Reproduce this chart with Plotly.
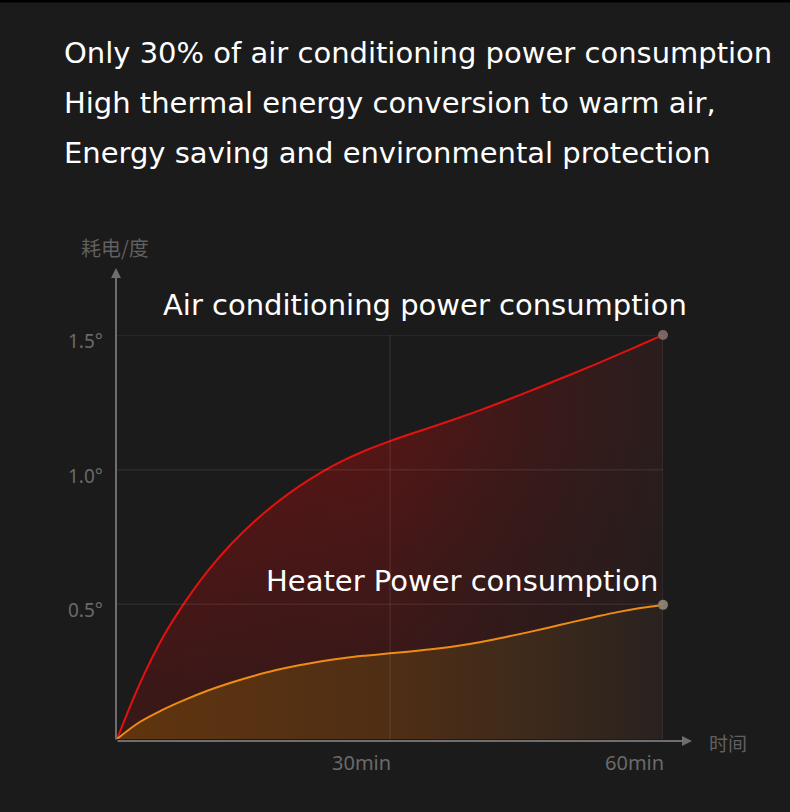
import plotly.graph_objects as go

# ---- data (minutes, kWh) ----
ac_x = [0, 2.5, 5, 7.5, 10, 12.5, 15, 17.5, 20, 22.5, 25, 27.5, 30, 32.5, 35, 37.5, 40, 42.5, 45, 47.5, 50, 52.5, 55, 57.5, 60]
ac_y = [0, 0.205, 0.375, 0.51, 0.625, 0.722, 0.805, 0.876, 0.938, 0.991, 1.036, 1.074, 1.106, 1.135, 1.163,
        1.192, 1.222, 1.254, 1.287, 1.321, 1.355, 1.39, 1.426, 1.463, 1.5]
ht_x = [0, 2.5, 5, 7.5, 10, 12.5, 15, 17.5, 20, 22.5, 25, 27.5, 30, 32.5, 35, 37.5, 40, 42.5, 45, 47.5, 50, 52.5, 55, 57.5, 60]
ht_y = [0, 0.063, 0.108, 0.146, 0.18, 0.209, 0.234, 0.256, 0.274, 0.289, 0.301, 0.310, 0.318, 0.326, 0.335,
        0.346, 0.360, 0.377, 0.395, 0.414, 0.434, 0.453, 0.471, 0.486, 0.498]
x_ticks = [30, 60]
x_tick_text = ["30min", "60min"]
y_ticks = [0.5, 1.0, 1.5]
y_tick_text = ["0.5°", "1.0°", "1.5°"]
headline = ["Only 30% of air conditioning power consumption",
            "High thermal energy conversion to warm air,",
            "Energy saving and environmental protection"]
ac_label = "Air conditioning power consumption"
ht_label = "Heater Power consumption"
y_title = "耗电/度"
x_title = "时间"

W, H = 790, 812
L, R, T, B = 117, 127, 335, 73
PW, PH = W - L - R, H - T - B


def px(x):
    return (x - L) / PW


def py(y):
    return (H - B - y) / PH


BG = "#1b1b1b"
TXT = "DejaVu Sans"
fig = go.Figure()

# red fill: horizontal base + vertical darkening overlay
fig.add_trace(go.Scatter(
    x=ac_x, y=ac_y, mode="none", line=dict(shape="spline"), fill="tozeroy",
    fillgradient=dict(type="horizontal", start=0, stop=60,
                      colorscale=[[0, "#5e1414"], [0.5, "#531616"], [0.75, "#3c1919"], [1, "#2a1d1d"]]),
    hoverinfo="skip", showlegend=False))
fig.add_trace(go.Scatter(
    x=ac_x, y=ac_y, mode="none", line=dict(shape="spline"), fill="tozeroy",
    fillgradient=dict(type="vertical", start=0, stop=1.5,
                      colorscale=[[0, "rgba(27,27,27,0.6)"], [0.4, "rgba(27,27,27,0.3)"],
                                  [0.75, "rgba(27,27,27,0)"], [1, "rgba(27,27,27,0)"]]),
    hoverinfo="skip", showlegend=False))
# orange fill
fig.add_trace(go.Scatter(
    x=ht_x, y=ht_y, mode="none", line=dict(shape="spline"), fill="tozeroy",
    fillgradient=dict(type="horizontal", start=0, stop=60,
                      colorscale=[[0, "#60350f"], [0.5, "#4f2e15"], [0.75, "#3e2a1b"], [1, "#29221f"]]),
    hoverinfo="skip", showlegend=False))

fig.update_xaxes(range=[0, 60], showticklabels=False, showgrid=False, zeroline=False,
                 showline=False, fixedrange=True)
fig.update_yaxes(range=[0, 1.5], showticklabels=False, showgrid=False, zeroline=False,
                 showline=False, fixedrange=True)

shapes = []
GRID = "rgba(255,255,255,0.075)"
for v in x_ticks:
    shapes.append(dict(type="line", xref="x", yref="y", x0=v, x1=v, y0=0, y1=max(y_ticks),
                       line=dict(color=GRID, width=1.5), layer="above"))
for v in y_ticks:
    shapes.append(dict(type="line", xref="x", yref="y", x0=0, x1=max(x_ticks), y0=v, y1=v,
                       line=dict(color=GRID, width=1.5), layer="above"))
shapes.append(dict(type="rect", xref="paper", yref="paper", x0=px(0), x1=px(W), y0=py(2.5), y1=py(0),
                   fillcolor="#000000", line=dict(width=0), layer="above"))

# lines on top
fig.add_trace(go.Scatter(
    x=ac_x, y=ac_y, mode="lines", line=dict(color="#e3120f", width=2, shape="spline"),
    hoverinfo="skip", showlegend=False, cliponaxis=False))
fig.add_trace(go.Scatter(
    x=ht_x, y=ht_y, mode="lines", line=dict(color="#f08c12", width=2, shape="spline"),
    hoverinfo="skip", showlegend=False, cliponaxis=False))
fig.add_trace(go.Scatter(
    x=[ac_x[-1], ht_x[-1]], y=[ac_y[-1], ht_y[-1]], mode="markers",
    marker=dict(size=10, color=["#7a6464", "#857c6c"]), cliponaxis=False,
    hoverinfo="skip", showlegend=False))

ann = []
# axes arrows
ann.append(dict(xref="paper", yref="paper", x=px(692), y=py(741), ax=-(692 - 116), ay=0,
                showarrow=True, arrowhead=2, arrowsize=1, arrowwidth=2, arrowcolor="#6e6e6e", text=""))
ann.append(dict(xref="paper", yref="paper", x=px(116), y=py(268), ax=0, ay=(741 - 268),
                showarrow=True, arrowhead=2, arrowsize=1, arrowwidth=2, arrowcolor="#6e6e6e", text=""))
# tick labels
for v, t in zip(x_ticks, x_tick_text):
    ann.append(dict(xref="x", yref="paper", x=v, y=py(762), xanchor="right", yanchor="middle", xshift=3,
                    text=t, showarrow=False, font=dict(family="Noto Sans", size=20, color="#6a6a6a")))
for v, t in zip(y_ticks, y_tick_text):
    ann.append(dict(xref="paper", yref="y", x=px(105), y=v, xanchor="right", yanchor="middle", yshift=-6,
                    text=t, showarrow=False, font=dict(family="Noto Sans", size=19, color="#6a6a6a")))
# axis titles
ann.append(dict(xref="paper", yref="paper", x=px(79), y=py(247), xanchor="left", yanchor="middle",
                text=y_title, showarrow=False, font=dict(family="Noto Sans CJK SC", size=20, color="#606060")))
ann.append(dict(xref="paper", yref="paper", x=px(707), y=py(742), xanchor="left", yanchor="middle",
                text=x_title, showarrow=False, font=dict(family="Noto Sans CJK SC", size=19, color="#606060")))
# series labels
ann.append(dict(xref="paper", yref="paper", x=px(425), y=py(305), xanchor="center", yanchor="middle",
                text=ac_label, showarrow=False, font=dict(family=TXT, size=29, color="#ffffff")))
ann.append(dict(xref="paper", yref="paper", x=px(462), y=py(581), xanchor="center", yanchor="middle",
                text=ht_label, showarrow=False, font=dict(family=TXT, size=29, color="#ffffff")))
# headline
for i, line in enumerate(headline):
    ann.append(dict(xref="paper", yref="paper", x=px(62), y=py(53 + 50 * i), xanchor="left", yanchor="middle",
                    text=line, showarrow=False, font=dict(family=TXT, size=29, color="#ffffff")))

fig.update_layout(
    width=W, height=H, margin=dict(l=L, r=R, t=T, b=B),
    paper_bgcolor=BG, plot_bgcolor=BG, annotations=ann, shapes=shapes,
)

fig.write_html("out.html", config={"displayModeBar": False})
